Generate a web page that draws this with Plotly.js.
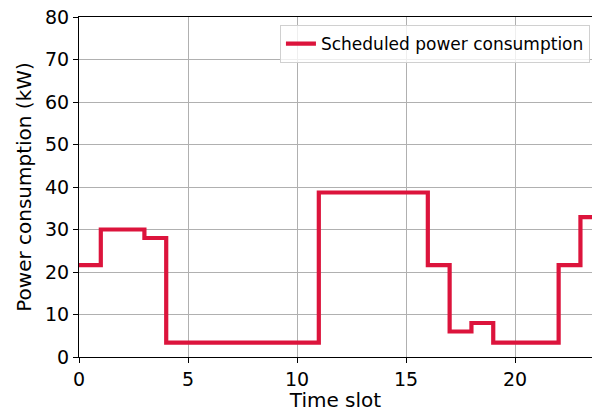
<!DOCTYPE html>
<html><head><meta charset="utf-8">
<script src="https://cdn.plot.ly/plotly-3.0.1.min.js"></script>
<style>html,body{margin:0;padding:0;background:#fff}#c{width:592px;height:412px}</style>
</head><body><div id="c"></div>
<script>
const timeSlots = [0,1,2,3,4,5,6,7,8,9,10,11,12,13,14,15,16,17,18,19,20,21,22,23];
const power = [21.6,30,30,28,3.4,3.4,3.4,3.4,3.4,3.4,3.4,38.7,38.7,38.7,38.7,38.7,21.6,6,8,3.4,3.4,3.4,21.6,32.9];
const seriesName = 'Scheduled power consumption';
const xTicks = [0,5,10,15,20];
const yTicks = [0,10,20,30,40,50,60,70,80];

const xs = timeSlots.concat([timeSlots[timeSlots.length-1]+1]);
const ys = power.concat([power[power.length-1]]);

const tickFont = {family:'DejaVu Sans', size:19, color:'#000'};
const titleFont = {family:'DejaVu Sans', size:20, color:'#000'};
Plotly.newPlot('c', [{
  x: xs, y: ys, type:'scatter', mode:'lines', name: seriesName,
  line:{shape:'hv', color:'#DC143C', width:4.2}
}], {
  width:592, height:412,
  margin:{l:79, r:0, t:17, b:55},
  paper_bgcolor:'#fff', plot_bgcolor:'#fff',
  font: tickFont,
  showlegend:true,
  legend:{x:0.996, y:0.976, xanchor:'right', yanchor:'top', bgcolor:'rgba(255,255,255,0.8)',
    bordercolor:'#d0d0d0', borderwidth:1, font:{family:'DejaVu Sans', size:17, color:'#000'}},
  xaxis:{range:[0,23.53], tickvals:xTicks, ticktext:xTicks.map(String), showgrid:true, gridcolor:'#b0b0b0', gridwidth:1,
    zeroline:false, showline:true, linecolor:'#000', linewidth:1, mirror:true, ticks:'outside', ticklen:5, tickcolor:'#000',
    title:{text:'Time slot', font:titleFont, standoff:6}, tickfont:tickFont},
  yaxis:{range:[0,80], tickvals:yTicks, ticktext:yTicks.map(String), showgrid:true, gridcolor:'#b0b0b0', gridwidth:1,
    zeroline:false, showline:true, linecolor:'#000', linewidth:1, ticks:'outside', ticklen:5, tickcolor:'#000',
    title:{text:'Power consumption (kW)', font:titleFont, standoff:8}, tickfont:tickFont}
}, {staticPlot:true});
</script></body></html>
